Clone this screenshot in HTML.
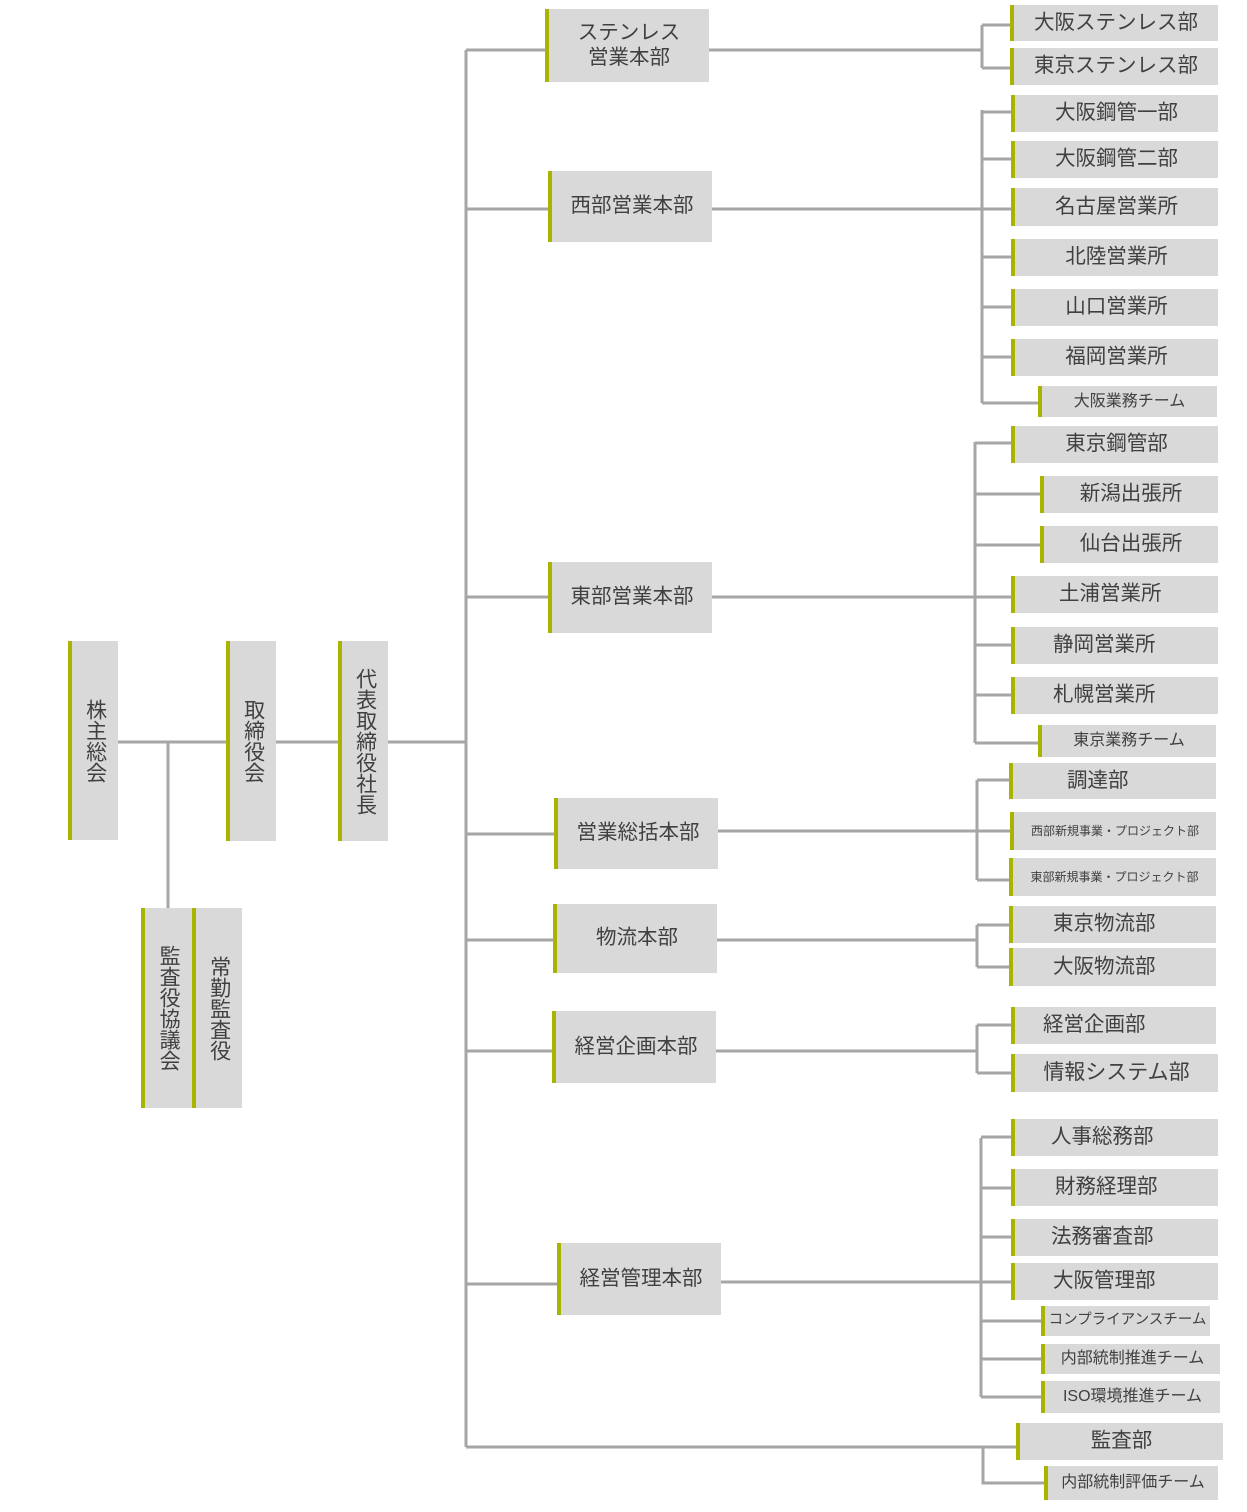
<!DOCTYPE html>
<html><head><meta charset="utf-8"><style>
body{margin:0;width:1247px;height:1512px;background:#fff;position:relative;overflow:hidden;font-family:"Liberation Sans","Noto Sans CJK JP",sans-serif;color:#404040}
.b{position:absolute;background:#d9d9d9;border-left:4px solid #a8b400;box-sizing:border-box;display:flex;align-items:center;justify-content:center;font-size:20.5px;line-height:1.2;text-align:center;white-space:nowrap}
.v{writing-mode:vertical-rl;font-size:21px;letter-spacing:0px}
.s{font-size:16px}.t{font-size:12px}
svg{position:absolute;left:0;top:0}
</style></head><body>
<svg width="1247" height="1512" stroke="#a6a6a6" stroke-width="3" fill="none">
<path d="M118 742H226M276 742H338M388 742H466M168 742V908"/>
<path d="M466 50V1447M466 50H545M709 50H982M466 209H548M712 209H1011M466 597H548M712 597H1011M466 834H554M718 831H1010M466 940H553M717 940H977M466 1051H552M716 1051H977M466 1284H557M721 1282H1011M466 1447H1016"/>
<path d="M982 25V68M982 25H1010M982 68H1010"/>
<path d="M982 110V403M982 112H1011M982 159H1011M982 257H1011M982 307H1011M982 357H1011M982 403H1038"/>
<path d="M975 442V743M975 443H1011M975 494H1040M975 545H1040M975 645H1011M975 695H1011M975 743H1038"/>
<path d="M977 780V880M977 780H1009M977 880H1009"/>
<path d="M977 925V967M977 925H1009M977 967H1009"/>
<path d="M977 1025V1073M977 1025H1011M977 1073H1011"/>
<path d="M981 1138V1397M981 1137H1011M981 1188H1011M981 1237H1011M981 1321H1041M981 1359H1041M981 1397H1041"/>
<path d="M983 1447V1483H1044"/>
</svg>
<div class="b v" style="left:68px;top:641px;width:50px;height:199px">株主総会</div>
<div class="b v" style="left:226px;top:641px;width:50px;height:200px">取締役会</div>
<div class="b v" style="left:338px;top:641px;width:50px;height:200px">代表取締役社長</div>
<div class="b v" style="left:141px;top:908px;width:51px;height:200px">監査役協議会</div>
<div class="b v" style="left:192px;top:908px;width:50px;height:200px">常勤監査役</div>

<div class="b" style="left:545px;top:9px;width:164px;height:73px">ステンレス<br>営業本部</div>
<div class="b" style="left:548px;top:171px;width:164px;height:71px">西部営業本部</div>
<div class="b" style="left:548px;top:562px;width:164px;height:71px">東部営業本部</div>
<div class="b" style="left:554px;top:798px;width:164px;height:71px">営業総括本部</div>
<div class="b" style="left:553px;top:904px;width:164px;height:69px">物流本部</div>
<div class="b" style="left:552px;top:1011px;width:164px;height:72px">経営企画本部</div>
<div class="b" style="left:557px;top:1243px;width:164px;height:72px">経営管理本部</div>

<div class="b" style="left:1010px;top:5px;width:208px;height:36px">大阪ステンレス部</div>
<div class="b" style="left:1010px;top:48px;width:208px;height:37px">東京ステンレス部</div>
<div class="b" style="left:1011px;top:95px;width:207px;height:37px">大阪鋼管一部</div>
<div class="b" style="left:1011px;top:141px;width:207px;height:37px">大阪鋼管二部</div>
<div class="b" style="left:1011px;top:188px;width:207px;height:38px">名古屋営業所</div>
<div class="b" style="left:1011px;top:239px;width:207px;height:37px">北陸営業所</div>
<div class="b" style="left:1011px;top:289px;width:207px;height:37px">山口営業所</div>
<div class="b" style="left:1011px;top:339px;width:207px;height:37px">福岡営業所</div>
<div class="b s" style="left:1038px;top:386px;width:179px;height:31px">大阪業務チーム</div>
<div class="b" style="left:1011px;top:426px;width:207px;height:37px">東京鋼管部</div>
<div class="b" style="left:1040px;top:476px;width:178px;height:37px">新潟出張所</div>
<div class="b" style="left:1040px;top:526px;width:178px;height:37px">仙台出張所</div>
<div class="b" style="left:1011px;top:576px;width:207px;height:37px;justify-content:flex-start;padding-left:44px">土浦営業所</div>
<div class="b" style="left:1011px;top:627px;width:207px;height:37px;justify-content:flex-start;padding-left:38px">静岡営業所</div>
<div class="b" style="left:1011px;top:677px;width:207px;height:37px;justify-content:flex-start;padding-left:38px">札幌営業所</div>
<div class="b s" style="left:1038px;top:725px;width:178px;height:32px">東京業務チーム</div>
<div class="b" style="left:1009px;top:763px;width:207px;height:36px;justify-content:flex-start;padding-left:54px">調達部</div>
<div class="b t" style="left:1010px;top:812px;width:206px;height:38px">西部新規事業・プロジェクト部</div>
<div class="b t" style="left:1009px;top:858px;width:207px;height:38px">東部新規事業・プロジェクト部</div>
<div class="b" style="left:1009px;top:906px;width:207px;height:37px;justify-content:flex-start;padding-left:40px">東京物流部</div>
<div class="b" style="left:1009px;top:948px;width:207px;height:38px;justify-content:flex-start;padding-left:40px">大阪物流部</div>
<div class="b" style="left:1011px;top:1007px;width:205px;height:37px;justify-content:flex-start;padding-left:28px">経営企画部</div>
<div class="b" style="left:1011px;top:1054px;width:207px;height:38px;font-size:21px">情報システム部</div>
<div class="b" style="left:1011px;top:1119px;width:207px;height:37px;justify-content:flex-start;padding-left:36px">人事総務部</div>
<div class="b" style="left:1011px;top:1169px;width:207px;height:37px;justify-content:flex-start;padding-left:40px">財務経理部</div>
<div class="b" style="left:1011px;top:1219px;width:207px;height:37px;justify-content:flex-start;padding-left:36px">法務審査部</div>
<div class="b" style="left:1011px;top:1263px;width:207px;height:37px;justify-content:flex-start;padding-left:38px">大阪管理部</div>
<div class="b s" style="left:1041px;top:1306px;width:169px;height:30px;font-size:14.5px">コンプライアンスチーム</div>
<div class="b s" style="left:1041px;top:1344px;width:179px;height:30px">内部統制推進チーム</div>
<div class="b s" style="left:1041px;top:1381px;width:179px;height:32px">ISO環境推進チーム</div>
<div class="b" style="left:1016px;top:1423px;width:207px;height:37px">監査部</div>
<div class="b s" style="left:1044px;top:1466px;width:174px;height:34px">内部統制評価チーム</div>
</body></html>
